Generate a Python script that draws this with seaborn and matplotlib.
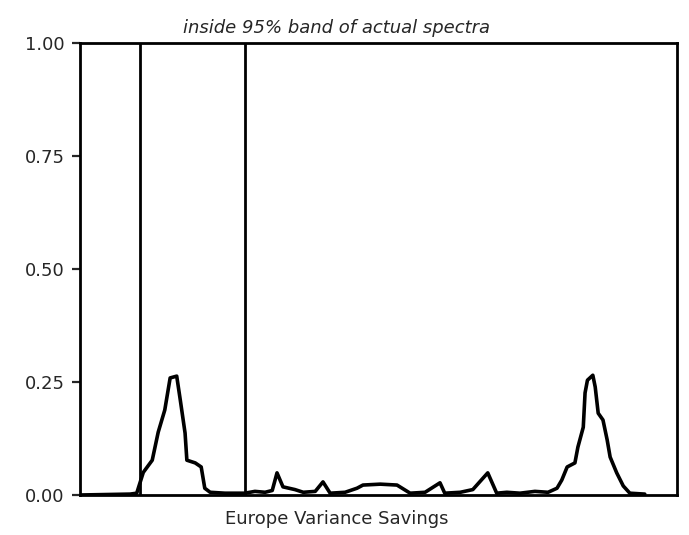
import matplotlib
matplotlib.use("Agg")
import matplotlib.pyplot as plt
import seaborn as sns
import pandas as pd

# Share of simulated spectra inside the 95% band of the actual spectra,
# by frequency (fraction of the frequency range).
freq = [0.000, 0.084, 0.095, 0.106, 0.121, 0.131, 0.142, 0.151, 0.162, 0.168,
        0.176, 0.179, 0.193, 0.203, 0.209, 0.218, 0.243, 0.276, 0.293, 0.310,
        0.322, 0.330, 0.340, 0.360, 0.374, 0.394, 0.407, 0.419, 0.444, 0.464,
        0.474, 0.503, 0.531, 0.553, 0.578, 0.603, 0.611, 0.637, 0.658, 0.683,
        0.698, 0.715, 0.737, 0.762, 0.784, 0.799, 0.807, 0.816, 0.829, 0.834,
        0.843, 0.846, 0.850, 0.859, 0.863, 0.868, 0.876, 0.883, 0.888, 0.899,
        0.910, 0.921, 0.946]
share = [0.000, 0.002, 0.004, 0.050, 0.077, 0.139, 0.188, 0.259, 0.263, 0.210,
         0.137, 0.077, 0.071, 0.062, 0.015, 0.006, 0.004, 0.004, 0.008, 0.006,
         0.010, 0.049, 0.018, 0.012, 0.006, 0.008, 0.029, 0.004, 0.006, 0.015,
         0.022, 0.024, 0.022, 0.004, 0.006, 0.027, 0.004, 0.006, 0.012, 0.049,
         0.004, 0.006, 0.004, 0.008, 0.006, 0.015, 0.033, 0.062, 0.071, 0.106,
         0.150, 0.226, 0.254, 0.265, 0.239, 0.181, 0.166, 0.122, 0.084, 0.049,
         0.020, 0.004, 0.002]

# Business-cycle band limits
band_edges = [0.1005, 0.276]

y_ticks = [0.00, 0.25, 0.50, 0.75, 1.00]
y_tick_labels = ["0.00", "0.25", "0.50", "0.75", "1.00"]

title = "inside 95% band of actual spectra"
x_label = "Europe Variance Savings"

df = pd.DataFrame({"freq": freq, "share": share})

sns.set_style("ticks")
plt.rcParams["font.family"] = ["DejaVu Sans"]

fig = plt.figure(figsize=(6.89, 5.35), dpi=100)
ax = fig.add_axes([80 / 689, 1 - 495 / 535, 597 / 689, 452 / 535])

sns.lineplot(data=df, x="freq", y="share", ax=ax, color="black",
             linewidth=2.6, estimator=None, sort=False)

for edge in band_edges:
    ax.axvline(edge, color="black", linewidth=2.0)

ax.set_xlim(0, 1)
ax.set_ylim(0, 1)
ax.set_yticks(y_ticks)
ax.set_yticklabels(y_tick_labels, fontsize=13)
ax.set_xticks([])
ax.tick_params(axis="y", length=6, width=1.6, direction="out", pad=5)
for side in ["left", "right", "top", "bottom"]:
    ax.spines[side].set_visible(True)
    ax.spines[side].set_linewidth(2.0)
    ax.spines[side].set_color("black")

ax.set_ylabel("")
ax.set_xlabel(x_label, fontsize=13)
ax.xaxis.set_label_coords(0.43, -0.053)
ax.xaxis.label.set_verticalalignment("center")

ax.set_title(title, fontsize=13, style="italic", x=0.43, pad=7)

fig.savefig("out.png", dpi=100, facecolor="white")
